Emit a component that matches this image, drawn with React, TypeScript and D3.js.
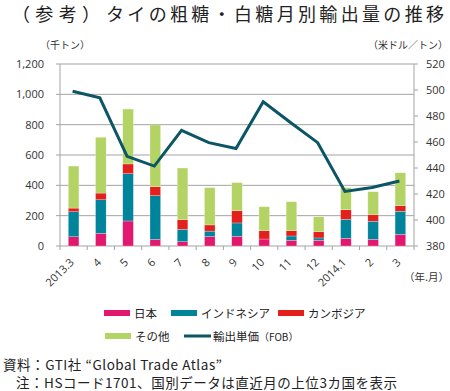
import React from "react";
import * as d3 from "d3";

const categories = ["2013.3", "4", "5", "6", "7", "8", "9", "10", "11", "12", "2014.1", "2", "3"];
const japan = [61, 83, 165, 44, 28, 62, 64, 46, 38, 38, 51, 44, 77];
const indonesia = [165, 222, 312, 288, 82, 36, 88, 0, 28, 15, 125, 119, 152];
const cambodia = [24, 44, 64, 59, 64, 41, 81, 55, 35, 41, 63, 43, 37];
const others = [277, 368, 362, 407, 340, 246, 185, 158, 191, 99, 146, 152, 217];
const unitPrice = [499, 494, 449, 441.5, 469, 459.5, 455, 491, 475, 459.5, 422, 425, 430];
const leftTicks = [0, 200, 400, 600, 800, 1000, 1200];
const rightTicks = [380, 400, 420, 440, 460, 480, 500, 520];

const seriesKeys = ["日本", "インドネシア", "カンボジア", "その他"];
const seriesColors = ["#e2186f", "#00849b", "#e3201b", "#b3d465"];
const lineColor = "#0b5566";

const JP = "'Noto Sans CJK JP', 'Noto Sans', sans-serif";
const NUM = "'Open Sans', 'Noto Sans', sans-serif";

export default function App() {
  const W = 450, H = 391;
  const left = 60, right = 414, top = 64, bottom = 246;

  const x = d3.scaleBand<string>().domain(categories).range([left, right]).padding(0);
  const yL = d3.scaleLinear().domain([0, 1200]).range([bottom, top]);
  const yR = d3.scaleLinear().domain([380, 520]).range([bottom, top]);

  const rows = categories.map((c, i) => ({
    cat: c,
    "日本": japan[i],
    "インドネシア": indonesia[i],
    "カンボジア": cambodia[i],
    "その他": others[i],
  }));
  const stacked = d3.stack<any>().keys(seriesKeys)(rows);
  const bw = x.bandwidth() * 0.39;

  const line = d3
    .line<number>()
    .x((_, i) => (x(categories[i]) as number) + x.bandwidth() / 2 - 1)
    .y((d) => yR(d))
    .curve(d3.curveLinear);

  const grid = "#a3a3a3";

  return (
    <svg width={W} height={H} style={{ position: "absolute", left: 0, top: 0, background: "#fff" }}>
      {/* title */}
      <text x={12} y={21} fontFamily={JP} fontSize={18} fill="#222" textLength={88} lengthAdjust="spacing">（参考）</text>
      <text x={106} y={21} fontFamily={JP} fontSize={18} fill="#222" textLength={338} lengthAdjust="spacing">タイの粗糖・白糖月別輸出量の推移</text>

      <text x={40} y={49} fontFamily={JP} fontSize={10} fill="#333">（千トン）</text>
      <text x={448} y={49} fontFamily={JP} fontSize={10} fill="#333" textAnchor="end">（米ドル／トン）</text>

      {/* gridlines */}
      {leftTicks.map((t) => (
        <line key={"g" + t} x1={left} x2={right} y1={yL(t)} y2={yL(t)} stroke={grid} strokeWidth={1} />
      ))}

      {/* bars */}
      {stacked.map((s, si) => (
        <g key={s.key} fill={seriesColors[si]}>
          {s.map((d, i) => (
            <rect
              key={i}
              x={(x(categories[i]) as number) + x.bandwidth() / 2 - bw / 2}
              y={yL(d[1])}
              width={bw}
              height={Math.max(0, yL(d[0]) - yL(d[1]))}
              stroke="#ffffff"
              strokeOpacity={0.5}
              strokeWidth={0.5}
            />
          ))}
        </g>
      ))}

      {/* axes */}
      <line x1={left} x2={left} y1={top} y2={bottom} stroke={grid} />
      <line x1={right} x2={right} y1={top} y2={bottom} stroke={grid} />
      {leftTicks.map((t) => (
        <g key={"l" + t}>
          <line x1={left - 4} x2={left} y1={yL(t)} y2={yL(t)} stroke={grid} />
          <text x={44} y={yL(t) + 4} textAnchor="end" fontFamily={NUM} fontSize={11} fill="#333">
            {d3.format(",")(t)}
          </text>
        </g>
      ))}
      {rightTicks.map((t) => (
        <g key={"r" + t}>
          <line x1={right} x2={right + 4} y1={yR(t)} y2={yR(t)} stroke={grid} />
          <text x={426} y={yR(t) + 4} fontFamily={NUM} fontSize={11} fill="#333">
            {t}
          </text>
        </g>
      ))}
      {categories.map((c, i) => (
        <line key={"xt" + i} x1={x(c) as number} x2={x(c) as number} y1={bottom} y2={bottom + 4} stroke={grid} />
      ))}
      <line x1={right} x2={right} y1={bottom} y2={bottom + 4} stroke={grid} />

      {/* x labels */}
      {categories.map((c) => {
        const cx = (x(c) as number) + x.bandwidth() / 2 + 1;
        const cy = 263;
        return (
          <text
            key={"xl" + c}
            x={cx}
            y={cy}
            textAnchor="end"
            fontFamily={NUM}
            fontSize={11}
            fill="#333"
            transform={`rotate(-45, ${cx}, ${cy})`}
          >
            {c}
          </text>
        );
      })}
      <text x={449} y={281} fontFamily={JP} fontSize={10.5} fill="#333" textAnchor="end">（年.月）</text>

      {/* line */}
      <path d={line(unitPrice) as string} fill="none" stroke={lineColor} strokeWidth={3} strokeLinejoin="miter" />

      {/* legend */}
      {[
        { label: "日本", color: seriesColors[0], x: 104, y: 313 },
        { label: "インドネシア", color: seriesColors[1], x: 171, y: 313 },
        { label: "カンボジア", color: seriesColors[2], x: 278, y: 313 },
        { label: "その他", color: seriesColors[3], x: 105, y: 336 },
      ].map((l) => (
        <g key={l.label}>
          <rect x={l.x} y={l.y - 3} width={26} height={6} fill={l.color} />
          <text x={l.x + 30} y={l.y + 4.5} fontFamily={JP} fontSize={11.5} fill="#222">{l.label}</text>
        </g>
      ))}
      <line x1={184} x2={211} y1={336} y2={336} stroke={lineColor} strokeWidth={3} />
      <text x={213} y={340.5} fontFamily={JP} fontSize={11.5} fill="#222">
        輸出単価<tspan fontSize={10}>（FOB）</tspan>
      </text>

      {/* notes */}
      <text x={3} y={370} fontFamily={JP} fontSize={13.5} fill="#222" textLength={219} lengthAdjust="spacing">資料：GTI社 “Global Trade Atlas”</text>
      <text x={16} y={388} fontFamily={JP} fontSize={13.5} fill="#222" textLength={381} lengthAdjust="spacing">注：HSコード1701、国別データは直近月の上位3カ国を表示</text>
    </svg>
  );
}
